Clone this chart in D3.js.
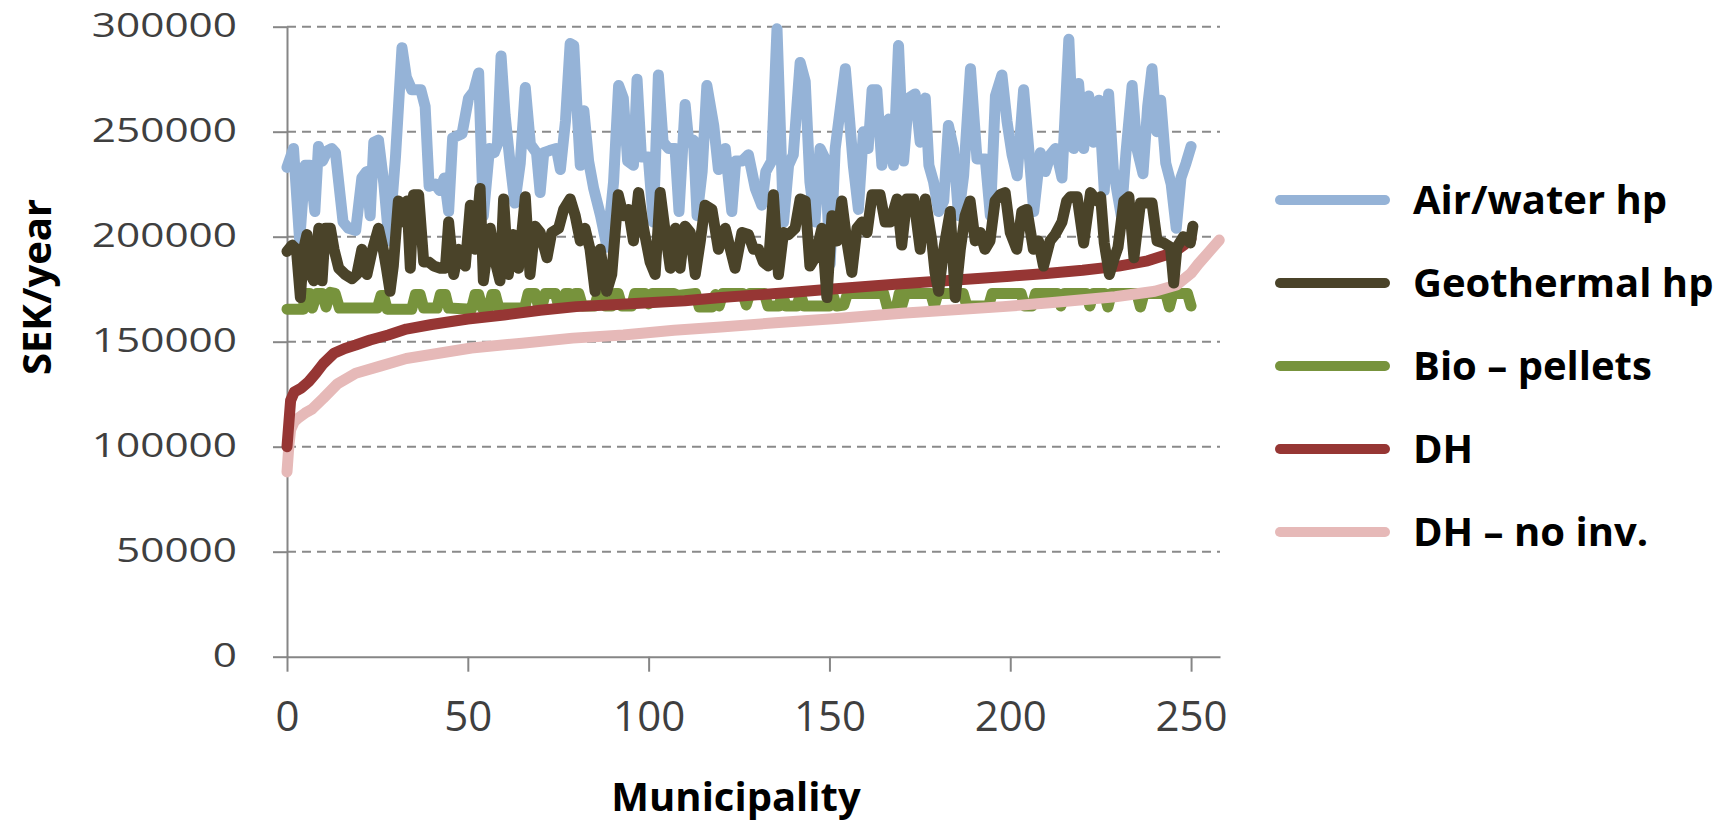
<!DOCTYPE html>
<html lang="en">
<head>
<meta charset="UTF-8">
<title>Heating cost per municipality</title>
<script src="https://d3js.org/d3.v7.min.js"></script>
<style>
  body { margin: 0; background: #fff; }
  svg { display: block; }
  .axis path, .axis line { stroke: #868686; stroke-width: 2; }
  .axis text { fill: #3f3f3f; font-family: "Open Sans", sans-serif; }
  .grid line { stroke: #8a8a8a; stroke-width: 2; stroke-dasharray: 9,6; }
  .series { fill: none; stroke-width: 11; stroke-linejoin: round; stroke-linecap: round; }
  .label { font-family: "Open Sans", sans-serif; font-weight: bold; fill: #000; }
</style>
</head>
<body>
<svg id="chart" width="1729" height="825"></svg>
<script>
// [municipality, SEK/year]
const airWater = [
  [0,233000],[1.8,242000],[3.5,198000],[5,234000],[6.3,234000],[7.7,212000],[8.7,243000],[9.8,236000],
  [11.2,241000],[12.4,242000],[13.4,240000],[15.5,207000],[17,204000],[19,203000],[20.7,228000],[22,231000],
  [23,210000],[24,245000],[25.3,246000],[26.8,225000],[28.2,198000],[30,238000],[31.8,290000],[33,276000],
  [34.5,270000],[37,270000],[38.2,262000],[39.3,224000],[41,225000],[42.2,222000],[43.5,228000],[44.7,212000],
  [45.8,247000],[48.4,249000],[50.2,266000],[51.6,269000],[53,278000],[54.3,210000],[56,242000],[57.3,240000],
  [58.2,244000],[59.2,286000],[60.3,258000],[61.7,235000],[63,216000],[64.5,235000],[65.9,271000],[67.3,244000],
  [69,240000],[70,221000],[71,240000],[72.6,241000],[74.5,242000],[75.6,232000],[77,255000],[78.3,292000],
  [79.3,291000],[80.2,261000],[81.1,234000],[82.1,260000],[83.4,236000],[84.8,223000],[86.7,210000],[88.5,195000],
  [90.3,226000],[91.7,272000],[93,266000],[94.2,236000],[95.8,234000],[96.8,275000],[98,238000],[99.9,238000],
  [101.3,207000],[102.7,277000],[104,245000],[105.5,242000],[107.3,242000],[108.4,212000],[110.1,263000],[111.1,245000],
  [112.4,246000],[113.4,210000],[114.8,231000],[116.1,272000],[118,253000],[119.3,232000],[121.2,242000],[123,212000],
  [124.1,236000],[125.8,236000],[127.6,239000],[129.5,223000],[131.3,215000],[132.4,231000],[134,236000],[135.5,299000],
  [137.3,207000],[138.7,234000],[140,239000],[141.9,283000],[143.3,274000],[144.6,226000],[146,207000],[147.4,242000],
  [148.8,237000],[150.2,187000],[151.6,242000],[153.3,265000],[154.4,280000],[156.6,234000],[158,213000],[159.4,250000],
  [160.7,242000],[161.8,270000],[163.1,270000],[164.5,234000],[166.4,256000],[167.7,234000],[169.1,291000],[170.5,236000],
  [171.9,266000],[173.7,268000],[175.1,245000],[176.5,266000],[177.5,234000],[178.8,226000],[180.2,212000],[181.6,217000],
  [182.9,253000],[184.3,242000],[185.7,210000],[187.1,229000],[189,280000],[190.8,237000],[193.1,237000],[194.5,210000],
  [195.9,267000],[197.7,277000],[199.1,255000],[200.5,239000],[201.9,229000],[203.7,270000],[205.1,242000],[206.5,212000],
  [208.3,240000],[209.7,231000],[211.1,239000],[212.5,242000],[214.3,228000],[216.2,294000],[217.5,242000],[218.9,273000],
  [220.3,242000],[221.7,267000],[223,245000],[224.5,265000],[226,222000],[227.2,268000],[228.5,232000],[230.7,210000],
  [232,240000],[233.7,272000],[235,242000],[236.7,230000],[238,262000],[239.2,280000],[240.5,250000],[241.6,265000],
  [243,235000],[244.5,225000],[245.9,204000],[247.2,228000],[248.6,235000],[250,243000]
];

const geothermal = [
  [0,193000],[1.4,196000],[2.6,194000],[3.7,171000],[4.6,194000],[5.5,201000],[6.5,182000],[7.4,179000],
  [8.8,204000],[9.7,179000],[10.6,204000],[12,204000],[13,194000],[14.3,185000],[16.1,182000],[18,180000],
  [19.3,182000],[20.7,194000],[22.1,182000],[23.5,193000],[25.3,204000],[26.6,194000],[27.5,185000],[28.5,174000],
  [29.4,186000],[30.8,217000],[32.2,207000],[33.2,217000],[34.1,185000],[35,220000],[36.4,220000],[37.8,188000],
  [39.2,188000],[40.6,186000],[42.4,185000],[43.8,185000],[44.7,207000],[46.1,182000],[47.5,194000],[49.3,186000],
  [50.7,215000],[52,194000],[53.4,223000],[54.3,179000],[56.2,204000],[57.6,188000],[58.9,179000],[59.9,218000],
  [61.2,182000],[62.6,201000],[64,185000],[65.9,219000],[67.2,182000],[68.6,205000],[70,202000],[71.9,190000],
  [73.2,202000],[75.1,204000],[76.5,213000],[78.3,218000],[79.7,210000],[81.1,198000],[82.4,204000],[83.8,194000],
  [85.2,174000],[86.6,194000],[88.4,174000],[89.8,182000],[91.6,220000],[93,210000],[94.4,213000],[95.8,198000],
  [97.2,221000],[98.6,204000],[100.4,188000],[101.8,182000],[103.2,221000],[104.6,202000],[106,185000],[107.4,204000],
  [108.7,185000],[110.1,205000],[111.5,202000],[112.9,182000],[114.3,198000],[115.6,215000],[117.5,213000],[119.3,194000],
  [121.2,204000],[122.6,194000],[123.9,185000],[125.8,202000],[127.6,201000],[129,194000],[130.4,194000],[131.7,188000],
  [133.1,186000],[134.5,220000],[135.9,182000],[137.3,202000],[138.7,201000],[140.5,204000],[141.9,218000],[143.3,217000],
  [144.6,186000],[146,190000],[147.9,204000],[149.3,171000],[150.7,210000],[152.1,198000],[153.4,217000],[154.8,198000],
  [156.2,183000],[157.6,204000],[159,207000],[160.4,202000],[161.8,220000],[164,220000],[165.4,207000],[166.8,207000],
  [168.7,218000],[170,196000],[171.4,218000],[173.3,218000],[175.1,194000],[176.5,218000],[178.3,198000],[179.2,183000],
  [180.2,174000],[181.6,194000],[183.4,212000],[184.8,171000],[186.2,194000],[187.5,210000],[188.9,217000],[190.3,198000],
  [191.7,202000],[193,194000],[194.4,198000],[195.8,217000],[197.2,220000],[198.6,221000],[200,202000],[201.8,194000],
  [203.2,212000],[204.6,213000],[206.4,194000],[207.8,198000],[209.2,186000],[211,198000],[212.4,201000],[214.3,207000],
  [215.6,217000],[216.6,219000],[218.5,219000],[220.3,197000],[222.2,221000],[224,217000],[225,219000],[226,197000],
  [227.4,182000],[228.8,190000],[229.8,195000],[231.4,217000],[232.8,219000],[234.2,190000],[236,216000],[237.3,216000],
  [239.2,216000],[240.6,198000],[242.4,197000],[244.3,195000],[245.2,178000],[246.1,195000],[247.9,200000],[249.8,197000],
  [250.5,205000]
];

const bioPellets = [
  [0,165500],[4.5,165500],[5,173000],[6.2,173000],[7,166000],[8.3,173000],[9.7,173000],[10.8,166500],
  [11.9,173500],[13.3,173000],[14.5,166000],[25,166000],[26,172000],[26.7,172000],[27.7,165500],[34.5,165500],
  [35.5,172500],[36.8,172500],[37.8,166000],[41.5,166000],[42.4,172500],[43.8,172500],[44.7,166000],[51,165500],
  [52,172500],[53,172500],[54,166000],[55.8,166000],[56.7,172500],[57.6,172500],[58.6,166000],[65.7,166000],
  [66.7,173000],[68.6,173000],[69.6,166500],[70.5,166500],[71.4,173000],[74.2,173000],[75.2,166500],[76,166500],
  [77,173000],[78,173000],[78.9,167000],[79.8,173000],[80.7,173000],[81.7,167000],[85.1,167000],[86.1,173000],
  [87,173000],[88,167000],[89.8,167000],[90.7,173000],[91.6,173000],[92.6,167000],[95.3,167000],[96.2,173000],
  [99,173000],[100,168000],[101,173000],[107,173000],[108,172000],[113,173000],[114,166500],[117.5,166500],
  [118.5,172500],[119.5,167000],[120.5,173000],[126,173000],[127,167500],[128,173000],[132,173000],[133,167000],
  [136,167000],[137,172500],[138,167000],[141,167000],[142,172500],[143,167000],[150,167000],[151,172000],
  [152,167000],[154,167500],[155,173000],[165,173000],[166,166500],[168.5,166500],[169.3,173000],[170,167000],
  [171,173000],[178,173000],[179,167000],[180,173000],[187,173000],[188,167000],[194,167000],[195,173000],
  [203,173000],[204,167000],[206,167000],[207,173000],[213,173000],[214,167000],[215,173000],[221,173000],
  [222,167000],[223,173000],[226,173000],[227,166500],[228,173000],[235,173000],[236,166500],[237,173000],
  [243,173000],[244,166500],[245,173000],[249,173000],[250,167000]
];

const districtHeat = [
  [0,100000],[1,122000],[2,126000],[4,128000],[6,131000],[8,135000],[10,139500],[13,144500],
  [16,146800],[19,148400],[23,150800],[28,153200],[33,156000],[40,158200],[50,160800],[60,162700],
  [70,165000],[80,166700],[90,167600],[100,168500],[110,169500],[120,171000],[130,172300],[140,173500],
  [150,175000],[160,176300],[170,177600],[180,178800],[190,180000],[200,181200],[210,182500],[220,184000],
  [230,186000],[238,188500],[243,191300],[246,193500],[248,196000],[250,199000]
];

const districtHeatNoInv = [
  [0,88000],[0.5,100000],[1,108000],[2,112000],[3,113500],[5,116000],[7,118000],[10,123000],
  [14,130000],[19,135000],[26,138500],[33,142000],[42,144500],[51,147000],[65,149300],[79,151700],
  [93,153200],[107,155500],[120,157000],[135,159000],[152,161100],[170,163500],[198,166700],[211,168500],
  [229,171400],[240,174000],[246,177000],[250,182600],[252,187000],[254.6,192100],[257.8,198400]
];

const legendNames = ["Air/water hp", "Geothermal hp", "Bio \u2013 pellets", "DH", "DH \u2013 no inv."];
const xTicks = [0, 50, 100, 150, 200, 250];
const yTicks = [0, 50000, 100000, 150000, 200000, 250000, 300000];

const colors = ["#95b3d7", "#4a4329", "#77933c", "#963634", "#e6b9b8"];
const seriesData = [airWater, geothermal, bioPellets, districtHeat, districtHeatNoInv];
// drawing order: geothermal sits on top of the DH curves in the original
const drawOrder = [0, 2, 4, 3, 1];

const svg = d3.select("#chart");
svg.append("rect").attr("width", 1729).attr("height", 825).attr("fill", "#fff");

const x = d3.scaleLinear().domain([0, 258]).range([287, 1220]);
const y = d3.scaleLinear().domain([0, 300000]).range([656.7, 26.7]);

// dashed grid
svg.append("g").attr("class", "grid")
  .selectAll("line")
  .data(yTicks.filter(d => d > 0))
  .enter().append("line")
  .attr("x1", x(0)).attr("x2", x(258))
  .attr("y1", d => y(d)).attr("y2", d => y(d));

// y axis
const yAxis = svg.append("g").attr("class", "axis")
  .attr("transform", `translate(${x(0)},0)`)
  .call(d3.axisLeft(y).tickValues(yTicks).tickSize(14).tickSizeOuter(0).tickPadding(36).tickFormat(d3.format("d")));
yAxis.selectAll("text")
  .attr("font-size", 32)
  .attr("textLength", d => String(d).length * 24.2)
  .attr("lengthAdjust", "spacingAndGlyphs");

// x axis
const xAxis = svg.append("g").attr("class", "axis")
  .attr("transform", `translate(0,${y(0)})`)
  .call(d3.axisBottom(x).tickValues(xTicks).tickSize(15).tickSizeOuter(0).tickPadding(29));
xAxis.selectAll("text").attr("font-size", 42);

// series
const line = d3.line().x(d => x(d[0])).y(d => y(d[1]));
drawOrder.forEach(i => {
  svg.append("path")
    .attr("class", "series")
    .attr("d", line(seriesData[i]))
    .attr("stroke", colors[i]);
});

// axis titles
svg.append("text").attr("class", "label")
  .attr("x", 736).attr("y", 811)
  .attr("text-anchor", "middle").attr("font-size", 40)
  .text("Municipality");

svg.append("text").attr("class", "label")
  .attr("transform", "translate(51,287) rotate(-90)")
  .attr("text-anchor", "middle").attr("font-size", 40)
  .text("SEK/year");

// legend
const legend = svg.append("g");
legendNames.forEach((name, i) => {
  const ly = 200 + i * 83;
  legend.append("line")
    .attr("x1", 1280).attr("x2", 1385)
    .attr("y1", ly).attr("y2", ly)
    .attr("stroke", colors[i]).attr("stroke-width", 10).attr("stroke-linecap", "round");
  legend.append("text").attr("class", "label")
    .attr("x", 1413).attr("y", ly + 14)
    .attr("font-size", 40)
    .text(name);
});
</script>
</body>
</html>
